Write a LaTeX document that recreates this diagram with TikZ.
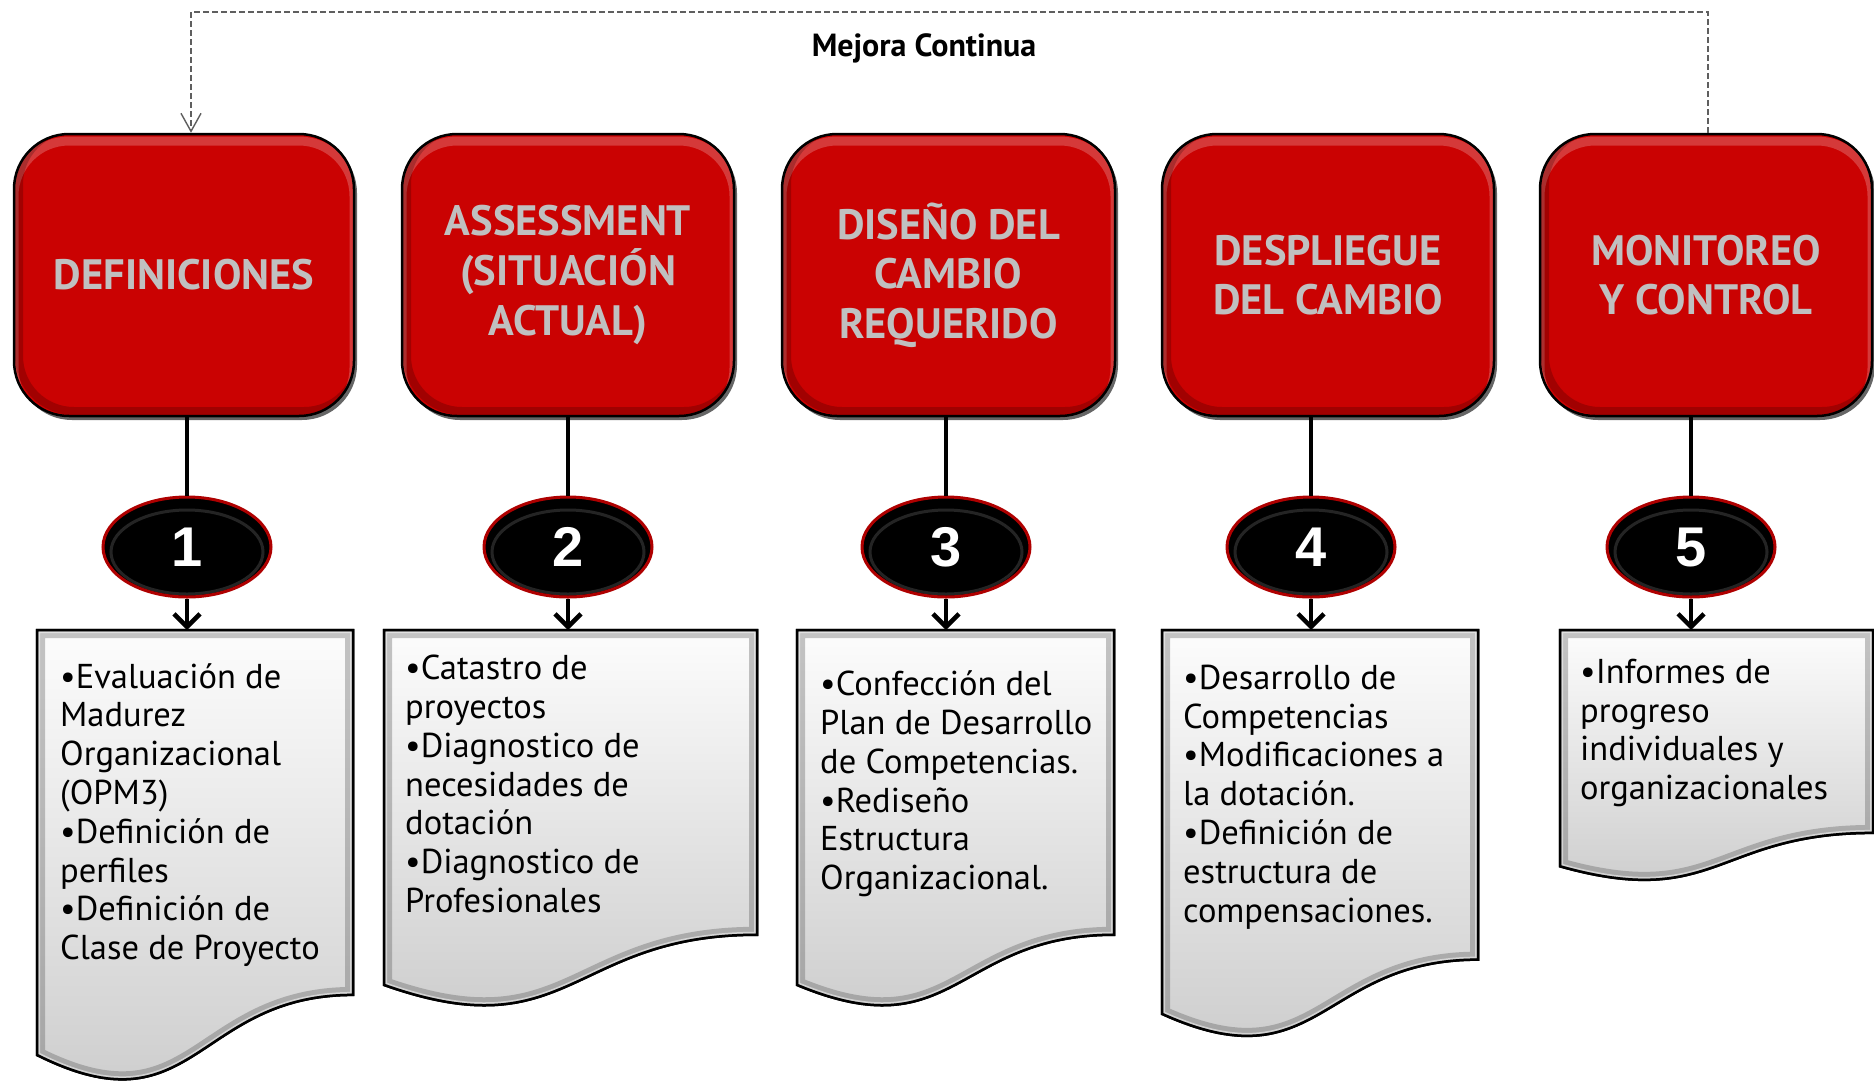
\documentclass[tikz,border=0pt]{standalone}
\usepackage{fontspec}
\setmainfont{PT Sans}
\newfontfamily\numfont{Liberation Sans}
\usetikzlibrary{arrows.meta,shadows,shapes.geometric,calc}
\definecolor{boxred}{RGB}{202,2,2}
\definecolor{titlegray}{RGB}{192,192,192}
\definecolor{rimred}{RGB}{175,0,0}
\definecolor{loopgray}{RGB}{95,95,95}
\tikzset{
  redbox/.style={draw=black, line width=2.5pt, fill=boxred, rounded corners=55pt,
    minimum height=282pt, text=titlegray, align=center,
    font=\fontsize{42.5}{49.6}\selectfont\bfseries,
    drop shadow={shadow xshift=3pt, shadow yshift=-4pt, opacity=0.6, fill=black},
    path picture={
      \draw[white, opacity=0.22, line width=9pt, rounded corners=55pt]
        ([yshift=-7pt]path picture bounding box.north west) rectangle
        ([yshift=-7pt]path picture bounding box.south east);
      \draw[black, opacity=0.2, line width=8pt, rounded corners=55pt]
        ([xshift=5pt,yshift=5pt]path picture bounding box.north west) rectangle
        ([xshift=5pt,yshift=5pt]path picture bounding box.south east);
    }},
  numoval/.style={ellipse, draw=rimred, line width=3pt, fill=black,
    minimum width=168pt, minimum height=100pt, inner sep=0pt, text=white,
    font=\numfont\bfseries\fontsize{56}{60}\selectfont,
    path picture={
      \draw[white, opacity=0.14, line width=3pt]
        ([yshift=-5pt]path picture bounding box.center) ellipse (76pt and 42pt);
    }},
  link/.style={line width=4.5pt, black},
  linkarr/.style={line width=4.5pt, black, -{Straight Barb[length=13pt,width=26pt]}},
  looparr/.style={loopgray, line width=1.4pt, dash pattern=on 6pt off 3pt,
    -{Straight Barb[length=18pt,width=20pt,line width=1.4pt]}},
  docstyle/.style={top color=gray!2, bottom color=gray!42, draw=black, line width=2.5pt},
  doctext/.style={anchor=west, align=left, inner sep=0pt, text=black,
    font=\fontsize{34.5}{38.8}\selectfont},
}
\newcommand\docshape[5]{%
  \pgfmathsetmacro\dR{#2+#4}%
  \pgfmathsetmacro\dM{#2+0.5*#4}%
  \pgfmathsetmacro\dYr{#3+0.802*#5}%
  \pgfmathsetmacro\dYc{#3+1.108*#5}%
  \pgfmathsetmacro\dYl{#3+0.934*#5}%
  \shade[docstyle] (#2,#3) -- (\dR,#3) -- (\dR,\dYr) .. controls (\dM,\dYr) and (\dM,\dYc) .. (#2,\dYl) -- cycle;
  \begin{scope}
    \clip (#2,#3) -- (\dR,#3) -- (\dR,\dYr) .. controls (\dM,\dYr) and (\dM,\dYc) .. (#2,\dYl) -- cycle;
    \draw[gray!70!black, opacity=0.35, line width=16pt] (#2,#3) -- (\dR,#3) -- (\dR,\dYr) .. controls (\dM,\dYr) and (\dM,\dYc) .. (#2,\dYl) -- cycle;
    \draw[white, opacity=0.5, line width=6pt] (#2,#3) -- (\dR,#3) -- (\dR,\dYr) .. controls (\dM,\dYr) and (\dM,\dYc) .. (#2,\dYl) -- cycle;
  \end{scope}
  \draw[black, line width=2.5pt] (#2,#3) -- (\dR,#3) -- (\dR,\dYr) .. controls (\dM,\dYr) and (\dM,\dYc) .. (#2,\dYl) -- cycle;
  \coordinate (#1) at (\dM,#3);
}
\begin{document}
\begin{tikzpicture}[x=1pt,y=-1pt]
\useasboundingbox[fill=white] (0,0) rectangle (1874,1080);

% red header boxes
\node[redbox, minimum width=340pt] (b1) at (184,275) {DEFINICIONES};
\node[redbox, minimum width=332pt] (b2) at (568,275) {ASSESSMENT\\(SITUACIÓN\\ACTUAL)};
\node[redbox, minimum width=333pt] (b3) at (948.5,275) {DISEÑO DEL\\CAMBIO\\REQUERIDO};
\node[redbox, minimum width=332pt] (b4) at (1328,275) {DESPLIEGUE\\DEL CAMBIO};
\node[redbox, minimum width=332pt] (b5) at (1706,275) {MONITOREO\\Y CONTROL};

% number ovals
\node[numoval] (e1) at (187,547) {1};
\node[numoval] (e2) at (568,547) {2};
\node[numoval] (e3) at (946,547) {3};
\node[numoval] (e4) at (1311,547) {4};
\node[numoval] (e5) at (1691,547) {5};

% document shapes
\docshape{d1}{37}{630}{316}{455}
\docshape{d2}{384}{630}{373}{380}
\docshape{d3}{797}{630}{317}{380}
\docshape{d4}{1162}{630}{316}{411}
\docshape{d5}{1560}{630}{313}{253}

\node[doctext] (t1) at (60,815) {•Evaluación de\\Madurez\\Organizacional\\(OPM3)\\•Definición de\\perfiles\\•Definición de\\Clase de Proyecto};
\node[doctext] (t2) at (405,784) {•Catastro de\\proyectos\\•Diagnostico de\\necesidades de\\dotación\\•Diagnostico de\\Profesionales};
\node[doctext] (t3) at (820,784) {•Confección del\\Plan de Desarrollo\\de Competencias.\\•Rediseño\\Estructura\\Organizacional.};
\node[doctext] (t4) at (1183,797) {•Desarrollo de\\Competencias\\•Modificaciones a\\la dotación.\\•Definición de\\estructura de\\compensaciones.};
\node[doctext] (t5) at (1580,733) {•Informes de\\progreso\\individuales y\\organizacionales};

% connectors
\foreach \i in {1,...,5}{
  \draw[link] (b\i.south -| e\i.north) -- (e\i.north);
  \draw[linkarr] (e\i.south) -- (e\i.south |- d\i);
}

% continuous improvement loop
\coordinate (loopR) at (1708,12);
\coordinate (loopL) at (191,12);
\draw[looparr] (b5.north -| loopR) -- (loopR) -- (loopL) -- (b1.north -| loopL);
\node[font=\fontsize{32}{36}\selectfont\bfseries, text=black] (mc) at (924,48) {Mejora Continua};
\end{tikzpicture}
\end{document}
